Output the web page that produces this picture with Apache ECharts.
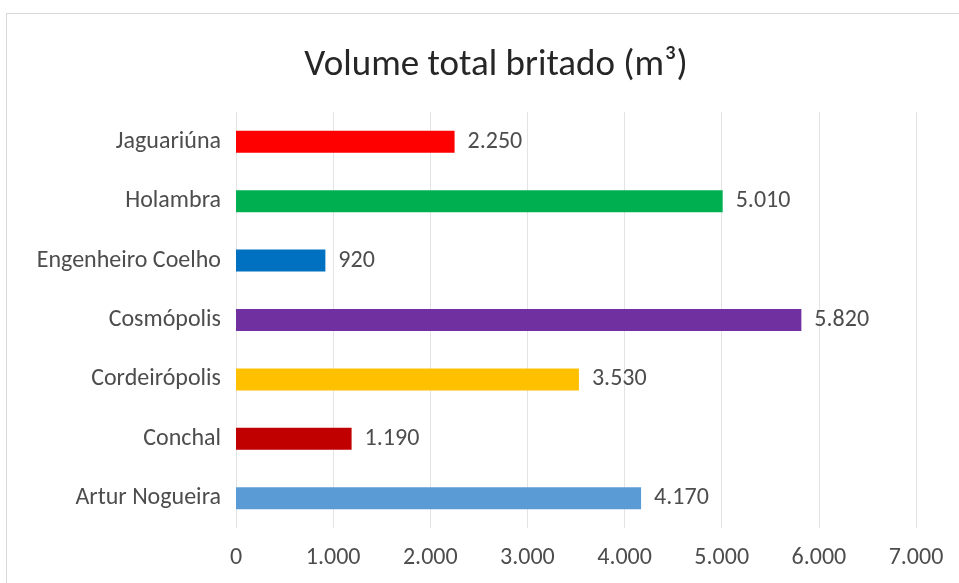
<!DOCTYPE html>
<html><head><meta charset="utf-8">
<script src="https://cdn.jsdelivr.net/npm/echarts@6/dist/echarts.min.js"></script>
<style>
html,body{margin:0;padding:0;background:#fff;overflow:hidden}
#frame{position:absolute;left:6px;top:13px;width:1000px;height:700px;border:1px solid #d9d9d9;box-sizing:border-box}
#c{position:absolute;left:0;top:0;width:959px;height:583px}
</style></head>
<body><div id="frame"></div><div id="c"></div>
<script>
const categories = ['Artur Nogueira','Conchal','Cordeirópolis','Cosmópolis','Engenheiro Coelho','Holambra','Jaguariúna'];
const values = [4170, 1190, 3530, 5820, 920, 5010, 2250];
const colors = ['#5B9BD5','#C00000','#FFC000','#7030A0','#0070C0','#00B050','#FF0000'];
const fmt = v => String(v).replace(/\B(?=(\d{3})+(?!\d))/g, '.');
const font = 'Carlito, Open Sans, Noto Sans, sans-serif';
const chart = echarts.init(document.getElementById('c'), null, {renderer:'canvas'});
chart.setOption({
  animation:false,
  backgroundColor:'transparent',
  title:{text:'Volume total britado (m³)', left:491, textAlign:'center', top:42,
    textStyle:{fontFamily:font, fontSize:37, fontWeight:'normal', color:'#262626'}},
  grid:{left:236, right:43, top:112, bottom:55},
  xAxis:{type:'value', min:0, max:7000, interval:1000,
    axisLine:{show:false}, axisTick:{show:false},
    splitLine:{lineStyle:{color:'#e3e3e3', width:1}},
    axisLabel:{formatter:fmt, color:'#4d4d4d', fontSize:24, fontFamily:font, margin:18}},
  yAxis:{type:'category', data:categories,
    axisLine:{show:false}, axisTick:{show:false},
    axisLabel:{color:'#4d4d4d', fontSize:24, fontFamily:font, margin:15}},
  series:[{type:'bar', barWidth:'37%',
    data: values.map((v,i)=>({value:v, itemStyle:{color:colors[i]}})),
    label:{show:true, position:'right', distance:13, formatter:p=>fmt(p.value),
      color:'#4d4d4d', fontSize:24, fontFamily:font}}]
});
</script></body></html>
